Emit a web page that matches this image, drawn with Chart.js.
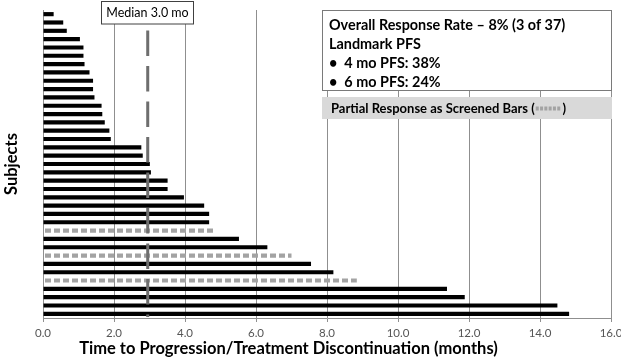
<!DOCTYPE html>
<html><head><meta charset="utf-8">
<script src="https://cdn.jsdelivr.net/npm/chart.js@4.4.1/dist/chart.umd.min.js"></script>
<style>html,body{margin:0;padding:0;background:#fff}#wrap{width:621px;height:357px}</style>
</head><body><div id="wrap"><canvas id="c"></canvas></div>
<script>
// Data (months to progression/discontinuation), top to bottom
const subjects = Array.from({length: 37}, (_, i) => 'S' + (i + 1));
const durations = [0.30, 0.57, 0.67, 1.04, 1.14, 1.14, 1.17, 1.31, 1.41, 1.41, 1.45, 1.65, 1.67, 1.74, 1.87, 1.91,
  2.77, 2.81, 3.01, 3.04, 3.51, 3.51, 3.97, 4.54, 4.68, 4.68, 4.80, 5.52, 6.32, 7.00, 7.55, 8.18, 8.84,
  11.38, 11.88, 14.49, 14.82];
const partialResponse = [0,0,0,0,0,0,0,0,0,0,0,0,0,0,0,0,0,0,0,0,0,0,0,0,0,0,1,0,0,1,0,0,1,0,0,0,0];
const xTicks = [0, 2, 4, 6, 8, 10, 12, 14, 16];
const medianValue = 2.95;
const medianLabel = 'Median 3.0 mo';
const xTitle = 'Time to Progression/Treatment Discontinuation (months)';
const summaryLines = ['Overall Response Rate \u2013 8% (3 of 37)', 'Landmark PFS', '\u2022  4 mo PFS: 38%', '\u2022  6 mo PFS: 24%'];
const screenedLabel = 'Partial Response as Screened Bars (';

const solidValues = durations.map((v, i) => partialResponse[i] ? null : v);
const screenedValues = durations.map((v, i) => partialResponse[i] ? v : null);

const FONT = 'Lato, "Open Sans", sans-serif';
const SCREEN = '#a3a3a3';

function makePattern() {
  const pc = document.createElement('canvas');
  pc.width = 9; pc.height = 10;
  const p = pc.getContext('2d');
  p.fillStyle = SCREEN;
  p.fillRect(0, 0, 6, 10);
  return document.getElementById('c').getContext('2d').createPattern(pc, 'repeat');
}
const pattern = makePattern();

const overlay = {
  id: 'overlay',
  afterDatasetsDraw(chart) {
    const ctx = chart.ctx;
    const xs = chart.scales.x;
    const area = chart.chartArea;
    const mx = xs.getPixelForValue(medianValue);
    ctx.save();
    // median dashed line
    ctx.strokeStyle = '#6e6e6e';
    ctx.lineWidth = 3;
    ctx.setLineDash([25.5, 10]);
    ctx.beginPath();
    ctx.moveTo(mx, 30.5);
    ctx.lineTo(mx, area.bottom - 1);
    ctx.stroke();
    ctx.setLineDash([]);
    // median label box
    ctx.fillStyle = '#fff';
    ctx.fillRect(101.5, 1.5, 92, 22.5);
    ctx.strokeStyle = '#404040';
    ctx.lineWidth = 1;
    ctx.strokeRect(101.5, 1.5, 92, 22.5);
    ctx.fillStyle = '#000';
    ctx.font = '12.5px ' + FONT;
    ctx.textAlign = 'center';
    ctx.textBaseline = 'middle';
    ctx.fillText(medianLabel, 147.5, 13);
    // x axis title (offset left of the plot centre, as in the original)
    ctx.font = 'bold 16.5px ' + FONT;
    ctx.fillText(xTitle, 288.5, 349);
    // summary box
    ctx.fillStyle = '#fff';
    ctx.fillRect(322.5, 10.5, 289, 80);
    ctx.strokeStyle = '#7a7a7a';
    ctx.strokeRect(322.5, 10.5, 289, 80);
    ctx.fillStyle = '#000';
    ctx.font = 'bold 14.4px ' + FONT;
    ctx.textAlign = 'left';
    const ys = [25, 44, 63, 82];
    summaryLines.forEach((t, i) => ctx.fillText(t, 329, ys[i]));
    // screened bars note
    ctx.fillStyle = '#d9d9d9';
    ctx.fillRect(322, 97, 290, 22);
    ctx.fillStyle = '#000';
    ctx.font = 'bold 13px ' + FONT;
    ctx.fillText(screenedLabel, 331, 108.5);
    const w = ctx.measureText(screenedLabel).width;
    let sx = 331 + w + 1;
    ctx.fillStyle = SCREEN;
    for (let k = 0; k < 6; k++) { ctx.fillRect(sx + k * 4.3, 106.5, 3, 4); }
    ctx.fillStyle = '#000';
    ctx.fillText(')', sx + 6 * 4.3 + 1, 108.5);
    ctx.restore();
  }
};

new Chart(document.getElementById('c'), {
  type: 'bar',
  data: {
    labels: subjects,
    datasets: [
      { label: 'Progression', data: solidValues, backgroundColor: '#000', grouped: false,
        categoryPercentage: 1, barPercentage: 0.5 },
      { label: 'Partial Response', data: screenedValues, backgroundColor: pattern, grouped: false,
        categoryPercentage: 1, barPercentage: 0.5 }
    ]
  },
  options: {
    indexAxis: 'y',
    responsive: true,
    maintainAspectRatio: false,
    animation: false,
    layout: { padding: { top: 10, right: 0, left: 0, bottom: 0 } },
    plugins: { legend: { display: false }, tooltip: { enabled: false } },
    scales: {
      x: {
        type: 'linear', min: 0, max: 16,
        afterBuildTicks(axis) { axis.ticks = xTicks.map(v => ({ value: v })); },
        afterFit(axis) { axis.height = 39; axis.paddingRight = 10; axis.paddingLeft = 0; },
        grid: { color: '#8f8f8f', lineWidth: 1, drawTicks: true, tickLength: 4 },
        border: { color: '#8f8f8f' },
        ticks: { color: '#555', font: { family: FONT, size: 11.5, lineHeight: 1 }, padding: 6,
          callback: v => Number(v).toFixed(1) },
        title: { display: false }
      },
      y: {
        afterFit(axis) { axis.width = 43; },
        grid: { display: false },
        border: { color: '#8f8f8f' },
        ticks: { display: false },
        title: { display: true, text: 'Subjects', color: '#000',
          font: { family: FONT, size: 16.5, weight: 'bold' }, padding: { top: 2, bottom: 0 } }
      }
    }
  },
  plugins: [overlay]
});
</script></body></html>
